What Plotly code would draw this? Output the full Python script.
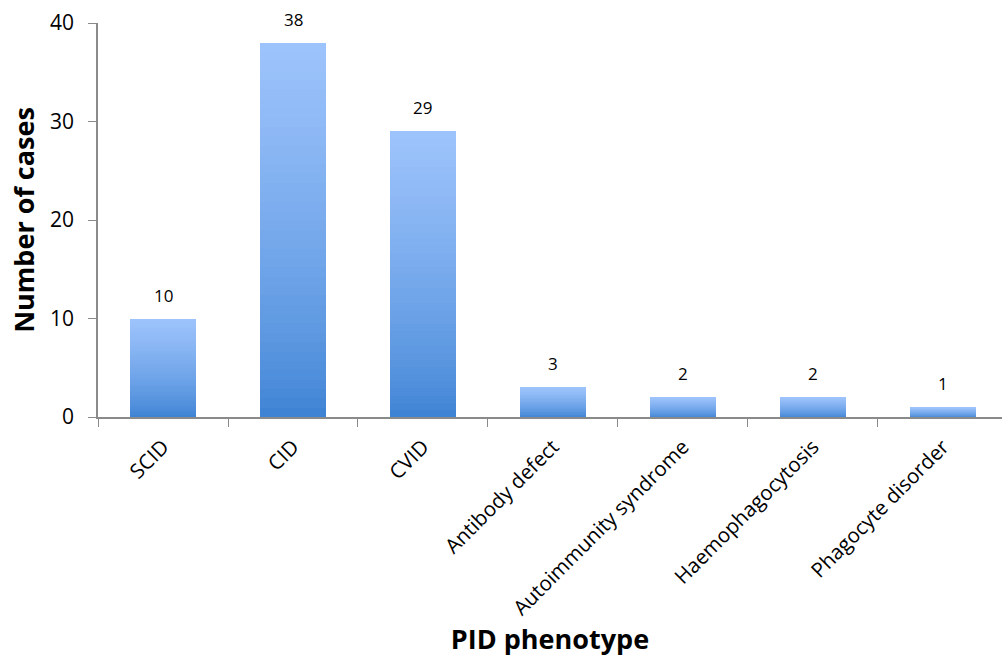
import plotly.graph_objects as go

# PID phenotype counts
phenotypes = ["SCID", "CID", "CVID", "Antibody defect", "Autoimmunity syndrome",
              "Haemophagocytosis", "Phagocyte disorder"]
cases = [10, 38, 29, 3, 2, 2, 1]

# vertical gradient: light blue at the top, deeper blue at the base
TOP = (158, 196, 252)
BOTTOM = (58, 128, 210)
N_STEPS = 40

def mix(t):
    # t = 0 at the bottom, 1 at the top; keep the upper part light longer
    s = t ** 0.7
    return "rgb({},{},{})".format(*[round(b + (a - b) * s) for a, b in zip(TOP, BOTTOM)])

fig = go.Figure()
for i in range(N_STEPS):
    fig.add_trace(go.Bar(
        x=phenotypes,
        y=[v / N_STEPS for v in cases],
        marker=dict(color=mix((i + 0.5) / N_STEPS), line=dict(width=0)),
        width=0.51,
        hoverinfo="skip",
        showlegend=False,
    ))

font_family = "'Open Sans', sans-serif"

for name, v in zip(phenotypes, cases):
    fig.add_annotation(x=name, y=v, text=str(v), showarrow=False,
                       yanchor="bottom", yshift=10,
                       font=dict(family=font_family, size=17, color="black"))

axis_grey = "#8a8a8a"
fig.update_layout(
    barmode="stack",
    bargap=0,
    width=1002, height=657,
    margin=dict(l=98, r=0, t=23, b=240),
    plot_bgcolor="white", paper_bgcolor="white",
    font=dict(family=font_family, color="black"),
    xaxis=dict(
        range=[-0.5, 6.454],
        showline=True, linecolor=axis_grey, linewidth=1.5,
        ticks="outside", tickson="boundaries", ticklen=8, tickcolor=axis_grey,
        tickangle=-45, tickfont=dict(size=20.5, family=font_family),
        ticklabelstandoff=8,
        title=dict(text="<b>PID phenotype</b>", font=dict(size=27, family=font_family), standoff=10),
        showgrid=False, zeroline=False,
    ),
    yaxis=dict(
        range=[0, 40], tickvals=[0, 10, 20, 30, 40],
        showline=True, linecolor=axis_grey, linewidth=1.5,
        ticks="outside", ticklen=8, tickcolor=axis_grey,
        tickfont=dict(size=21, family=font_family),
        ticklabelstandoff=10,
        title=dict(text="<b>Number of cases</b>", font=dict(size=27, family=font_family), standoff=8),
        showgrid=False, zeroline=False,
    ),
)

fig.write_html("out.html")
